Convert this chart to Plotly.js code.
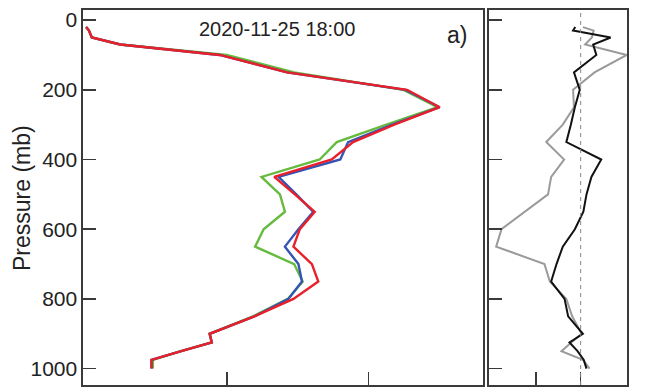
<!DOCTYPE html>
<html>
<head>
<meta charset="utf-8">
<script src="https://cdn.plot.ly/plotly-3.0.1.min.js"></script>
<style>
  html, body { margin: 0; padding: 0; background: #fff; }
  #chart { width: 648px; height: 387px; }
</style>
</head>
<body>
<div id="chart"></div>
<script>
// Pressure levels (mb) shared by every profile
const levels = [20, 30, 50, 70, 100, 150, 200, 250, 300, 350, 400, 450, 500,
                550, 600, 650, 700, 750, 800, 850, 900, 925, 950, 975, 1000];

// Panel a) profiles
const redProfile   = [0.2, 0.6, 1.0, 5.0, 19.0, 28.5, 45.4, 50.0, 43.6, 37.8, 34.8, 26.7, 29.6,
                      32.4, 30.3, 29.4, 32.0, 32.9, 29.4, 23.9, 17.6, 17.9, 13.6, 9.4, 9.4];
const blueProfile  = [0.2, 0.6, 1.0, 5.0, 19.0, 28.5, 45.2, 50.0, 43.3, 37.1, 36.0, 27.3, 29.8,
                      32.2, 30.1, 28.2, 30.1, 30.6, 28.7, 23.9, 17.6, 17.9, 13.6, 9.4, 9.4];
const greenProfile = [0.2, 0.6, 1.0, 5.0, 20.0, 29.5, 44.9, 49.7, 42.5, 35.5, 33.1, 24.9, 27.5,
                      28.2, 25.2, 24.0, 29.5, 30.7, 28.6, 23.7, 17.6, 17.9, 13.5, 9.6, 9.6];

// Right-hand panel: differences
const blackDiff = [-1.2, -1.7, 6.7, 2.8, 3.5, -1.5, -0.2, -1.3, -2.2, -3.2, 4.6, 2.4, 1.3,
                   0.6, -1.3, -4.0, -5.4, -6.6, -3.6, -2.8, 0.5, -2.5, -0.7, 0.7, 1.3];
const grayDiff  = [0.5, 2.9, 2.5, 1.0, 10.3, 3.1, -1.7, -1.5, -4.0, -7.7, -3.7, -6.6, -7.3,
                   -12.5, -17.7, -18.9, -8.1, -6.9, -3.2, -1.9, 0.2, -2.1, -4.3, 0.5, 2.0];

const pressureTicks = [0, 200, 400, 600, 800, 1000];
const leftXTicks = [20, 40];
const rightXTicks = [-10, 0];

const titleText = '2020-11-25 18:00';
const panelTag = 'a)';
const yTitle = 'Pressure (mb)';

const frameColor = '#3a3a3a';
const font = 'Liberation Sans, Arial, Helvetica, sans-serif';

function profile(x, color, width, axes) {
  return {
    x: x, y: levels, type: 'scatter', mode: 'lines',
    line: { color: color, width: width },
    xaxis: axes[0], yaxis: axes[1], hoverinfo: 'skip', showlegend: false
  };
}

const data = [
  profile(greenProfile, '#66bb3f', 2.4, ['x', 'y']),
  profile(blueProfile, '#3553b5', 2.4, ['x', 'y']),
  profile(redProfile, '#e8202a', 2.4, ['x', 'y']),
  profile(grayDiff, '#9a9a9a', 2.0, ['x2', 'y2']),
  profile(blackDiff, '#111111', 2.0, ['x2', 'y2'])
];

const axisCommon = {
  showline: true, mirror: true, linecolor: frameColor, linewidth: 1.6,
  ticks: 'inside', ticklen: 13, tickwidth: 1.6, tickcolor: frameColor,
  showgrid: false, zeroline: false
};

const layout = {
  width: 648, height: 387,
  margin: { l: 0, r: 0, t: 0, b: 0 },
  paper_bgcolor: '#ffffff', plot_bgcolor: '#ffffff',
  font: { family: font, color: '#222' },
  xaxis: Object.assign({}, axisCommon, {
    domain: [83 / 648, 483 / 648], range: [-0.24, 56.1],
    tickvals: leftXTicks, showticklabels: false
  }),
  yaxis: Object.assign({}, axisCommon, {
    domain: [2 / 387, 377 / 387], range: [1047, -29],
    tickvals: pressureTicks, tickfont: { size: 21, family: font, color: '#222' }
  }),
  xaxis2: Object.assign({}, axisCommon, {
    domain: [489 / 648, 627 / 648], range: [-20.5, 10.36], anchor: 'y2',
    tickvals: rightXTicks, showticklabels: false
  }),
  yaxis2: Object.assign({}, axisCommon, {
    domain: [2 / 387, 377 / 387], range: [1047, -29], anchor: 'x2',
    tickvals: pressureTicks, showticklabels: false
  }),
  shapes: [{
    type: 'line', xref: 'x2', yref: 'y2 domain', x0: 0, x1: 0, y0: 0, y1: 1,
    line: { color: '#888', width: 1, dash: '4px,4px' }
  }],
  annotations: [
    { text: titleText, xref: 'paper', yref: 'paper', x: 277 / 648, y: 1 - 29 / 387,
      xanchor: 'center', yanchor: 'middle', showarrow: false,
      font: { size: 20, family: font, color: '#222' } },
    { text: panelTag, xref: 'paper', yref: 'paper', x: 457 / 648, y: 1 - 35 / 387,
      xanchor: 'center', yanchor: 'middle', showarrow: false,
      font: { size: 23, family: font, color: '#222' } },
    // vertical axis label for the pressure axis
    { text: yTitle, xref: 'paper', yref: 'paper', x: 22 / 648, y: 1 - 198 / 387,
      xanchor: 'center', yanchor: 'middle', textangle: -90, showarrow: false,
      font: { size: 23, family: font, color: '#222' } }
  ]
};

Plotly.newPlot('chart', data, layout, { staticPlot: true, displayModeBar: false });
</script>
</body>
</html>
